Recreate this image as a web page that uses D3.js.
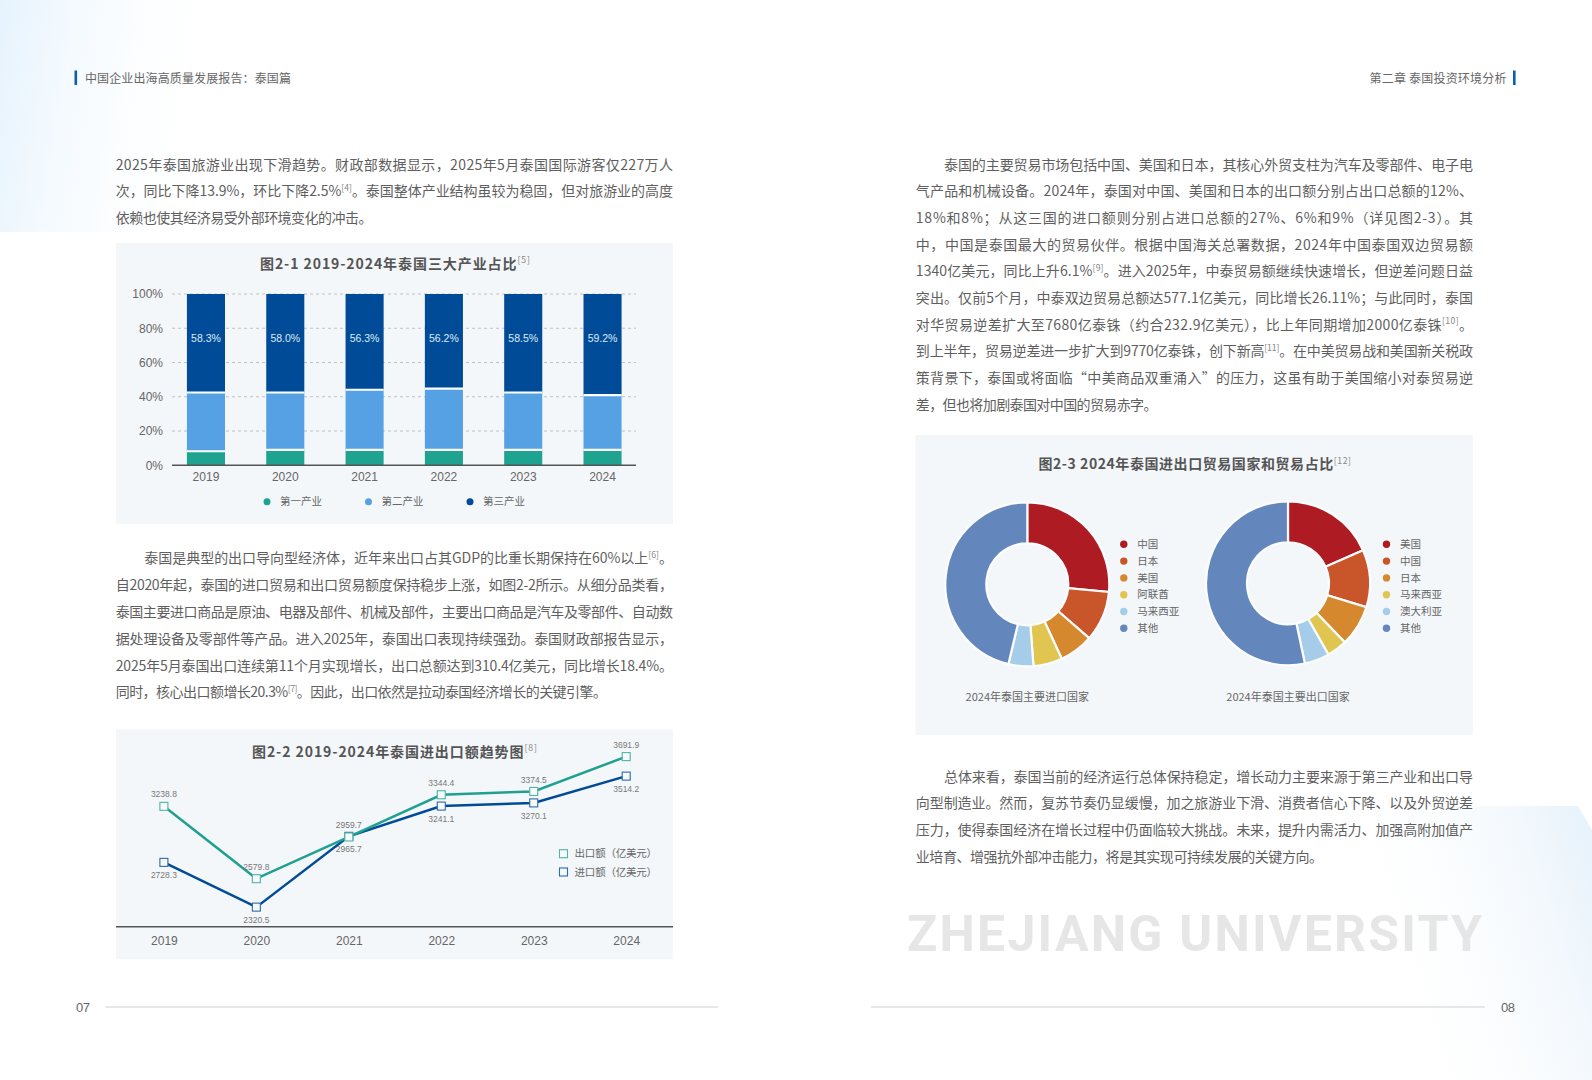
<!DOCTYPE html>
<html><head><meta charset="utf-8">
<script src="https://cdn.jsdelivr.net/npm/d3@7/dist/d3.min.js"></script>
<style>html,body{margin:0;padding:0;background:#fff;overflow:hidden}svg{display:block}</style>
</head><body><svg id="page" width="1592" height="1080"></svg>
<script>
// ---------- data ----------
const years=["2019","2020","2021","2022","2023","2024"];
const primaryShare=[8.2,9,9,9,9,9];
const secondaryShare=[34.3,33.5,35.1,35.8,33.5,32.0];
const tertiaryShare=[57.5,57.5,55.9,55.2,57.5,59.0];
const tertiaryLabels=["58.3%","58.0%","56.3%","56.2%","58.5%","59.2%"];
const industryNames=["第一产业","第二产业","第三产业"];
const exportValues=[3238.8,2579.8,2959.7,3344.4,3374.5,3691.9];
const importValues=[2728.3,2320.5,2965.7,3241.1,3270.1,3514.2];
const tradeNames=["出口额（亿美元）","进口额（亿美元）"];
const importCountries=["中国","日本","美国","阿联酋","马来西亚","其他"];
const importShares=[26.5,9.9,6.7,5.7,4.9,46.3];
const exportCountries=["美国","中国","日本","马来西亚","澳大利亚","其他"];
const exportShares=[18.4,11.3,8.1,4.0,4.9,53.3];
const para1=["2025年泰国旅游业出现下滑趋势。财政部数据显示，2025年5月泰国国际游客仅227万人","次，同比下降13.9%，环比下降2.5%^[4]^。泰国整体产业结构虽较为稳固，但对旅游业的高度","依赖也使其经济易受外部环境变化的冲击。"];
const para2=["泰国是典型的出口导向型经济体，近年来出口占其GDP的比重长期保持在60%以上^[6]^。","自2020年起，泰国的进口贸易和出口贸易额度保持稳步上涨，如图2-2所示。从细分品类看，","泰国主要进口商品是原油、电器及部件、机械及部件，主要出口商品是汽车及零部件、自动数","据处理设备及零部件等产品。进入2025年，泰国出口表现持续强劲。泰国财政部报告显示，","2025年5月泰国出口连续第11个月实现增长，出口总额达到310.4亿美元，同比增长18.4%。","同时，核心出口额增长20.3%^[7]^。因此，出口依然是拉动泰国经济增长的关键引擎。"];
const para3=["泰国的主要贸易市场包括中国、美国和日本，其核心外贸支柱为汽车及零部件、电子电","气产品和机械设备。2024年，泰国对中国、美国和日本的出口额分别占出口总额的12%、","18%和8%；从这三国的进口额则分别占进口总额的27%、6%和9%（详见图2-3）。其","中，中国是泰国最大的贸易伙伴。根据中国海关总署数据，2024年中国泰国双边贸易额","1340亿美元，同比上升6.1%^[9]^。进入2025年，中泰贸易额继续快速增长，但逆差问题日益","突出。仅前5个月，中泰双边贸易总额达577.1亿美元，同比增长26.11%；与此同时，泰国","对华贸易逆差扩大至7680亿泰铢（约合232.9亿美元），比上年同期增加2000亿泰铢^[10]^。","到上半年，贸易逆差进一步扩大到9770亿泰铢，创下新高^[11]^。在中美贸易战和美国新关税政","策背景下，泰国或将面临“中美商品双重涌入”的压力，这虽有助于美国缩小对泰贸易逆","差，但也将加剧泰国对中国的贸易赤字。"];
const para4=["总体来看，泰国当前的经济运行总体保持稳定，增长动力主要来源于第三产业和出口导","向型制造业。然而，复苏节奏仍显缓慢，加之旅游业下滑、消费者信心下降、以及外贸逆差","压力，使得泰国经济在增长过程中仍面临较大挑战。未来，提升内需活力、加强高附加值产","业培育、增强抗外部冲击能力，将是其实现可持续发展的关键方向。"];

// ---------- helpers ----------
const CJK='"Noto Sans CJK SC","Noto Sans",sans-serif', LAT='"Liberation Sans",Arial,sans-serif';
const TXT='#666', PANEL='#f4f7fa';
const svg=d3.select('#page');
const defs=svg.append('defs');
function grad(id,x1,y1,x2,y2,stops){const g=defs.append('linearGradient').attr('id',id).attr('x1',x1).attr('y1',y1).attr('x2',x2).attr('y2',y2);
  stops.forEach(s=>g.append('stop').attr('offset',s[0]).attr('stop-color',s[1]).attr('stop-opacity',s[2]));}
grad('gTL',0,0,1,0.15,[[0,'#e6f3fd',1],[1,'#ffffff',0]]);
grad('gBR',1,0.2,0,0.6,[[0,'#e9f3fb',1],[1,'#ffffff',0]]);
svg.append('path').attr('d','M0,0H190L230,60L150,232H0Z').attr('fill','url(#gTL)');
svg.append('path').attr('d','M1370,806H1578L1592,830V1080H1370Z').attr('fill','url(#gBR)');

// text with optional ^sup^ runs; fitted by letter-spacing between x0 and x1
function richText(g,str,x,y,size,fill,weight,x1,family){
  const t=g.append('text').attr('x',x).attr('y',y).attr('dy','0.36em').attr('font-family',family||CJK)
    .attr('font-size',size).attr('fill',fill).attr('font-weight',weight||400);
  str.split('^').forEach((part,i)=>{ if(!part) return;
    if(i%2){ t.append('tspan').attr('font-size',size*0.62).attr('dy',-size*0.4).attr('fill','#888').attr('font-weight',400).text(part);
      t.append('tspan').attr('font-size',size).attr('dy',size*0.4).text('\u200b'); }
    else t.append('tspan').text(part); });
  if(x1!==undefined){ const n=str.replace(/\^/g,'').length; const len=t.node().getComputedTextLength();
    t.attr('letter-spacing',(x1-x-len)/Math.max(1,n-1)); }
  return t;
}
function block(lines,x0,x1,y0,dy,indent,lastEnd){
  const g=svg.append('g');
  lines.forEach((l,i)=>{ const last=i===lines.length-1;
    richText(g,l,x0+(i===0?indent:0),y0+i*dy,14,'#5f5f5f',400,last?lastEnd:x1); });
}
block(para1,115.7,673,164.5,26.85,0,372.6);
block(para2,115.7,673,558.4,26.8,28.5,607);
block(para3,915.8,1473,164.5,26.7,28.2,1157.5);
block(para4,915.8,1473,776.7,26.7,28.2,1323);

// header, footer, watermark
svg.append('rect').attr('x',74.5).attr('y',70.5).attr('width',2.6).attr('height',14.5).attr('fill','#0b5fae');
richText(svg,'中国企业出海高质量发展报告：泰国篇',85,78.5,12,TXT,400,291);
svg.append('rect').attr('x',1513).attr('y',70.5).attr('width',2.6).attr('height',14.5).attr('fill','#0b5fae');
richText(svg,'第二章 泰国投资环境分析',1369.5,78.5,12,TXT,400,1506.5);
const lineFoot=[[105.6,718],[871,1485]];
svg.selectAll('line.foot').data(lineFoot).join('line').attr('class','foot').attr('x1',d=>d[0]).attr('x2',d=>d[1]).attr('y1',1007).attr('y2',1007).attr('stroke','#cdd2d6').attr('stroke-width',1);
richText(svg,'07',76,1007,13,TXT,400,90,LAT);
richText(svg,'08',1501,1007,13,TXT,400,1515,LAT);
richText(svg,'ZHEJIANG UNIVERSITY',907,933,50,'#e6e6e6',700,1482,'Roboto,"Liberation Sans",sans-serif');

// ---------- figure 2-1 ----------
(function(){
  const g=svg.append('g');
  g.append('rect').attr('x',116).attr('y',243).attr('width',557).attr('height',281).attr('fill',PANEL);
  richText(g,'图2-1 2019-2024年泰国三大产业占比^[5]^',260,264,14,'#555',700,530);
  const x=d3.scaleBand().domain(years).range([166.3,642.2]).paddingInner(.52).paddingOuter(.26);
  const y=d3.scaleLinear().domain([0,100]).range([465.3,294]);
  const ga=g.append('g').attr('transform','translate(172,0)').call(d3.axisLeft(y).tickValues([0,20,40,60,80,100]).tickFormat(d=>d+'%').tickSize(0).tickPadding(9));
  ga.select('.domain').remove();
  ga.selectAll('text').attr('font-family',LAT).attr('font-size',12).attr('fill',TXT);
  const gr=g.append('g').selectAll('line').data([20,40,60,80,100]).join('line').attr('x1',172).attr('x2',636)
    .attr('y1',d=>y(d)).attr('y2',d=>y(d)).attr('stroke','#bcc2c7').attr('stroke-width',1).attr('stroke-dasharray','3 3');
  const rows=years.map((yr,i)=>({yr,a:primaryShare[i],b:secondaryShare[i],c:tertiaryShare[i]}));
  const stack=d3.stack().keys(['a','b','c'])(rows);
  const cols=['#1fa391','#55a1e3','#004b97'];
  g.selectAll('g.s').data(stack).join('g').attr('class','s').attr('fill',(d,i)=>cols[i])
    .selectAll('rect').data(d=>d).join('rect').attr('x',d=>x(d.data.yr)).attr('width',x.bandwidth())
    .attr('y',d=>y(d[1])).attr('height',d=>y(d[0])-y(d[1]));
  g.selectAll('line.sep').data(rows.flatMap(r=>[[r.yr,r.a],[r.yr,r.a+r.b]])).join('line').attr('class','sep')
    .attr('x1',d=>x(d[0])).attr('x2',d=>x(d[0])+x.bandwidth()).attr('y1',d=>y(d[1])).attr('y2',d=>y(d[1])).attr('stroke','#fff').attr('stroke-width',2.2);
  g.selectAll('text.v').data(tertiaryLabels).join('text').attr('class','v').attr('x',(d,i)=>x(years[i])+x.bandwidth()/2).attr('y',338).attr('dy','.36em')
    .attr('text-anchor','middle').attr('font-family',LAT).attr('font-size',10.5).attr('fill','#dcebf7').text(d=>d);
  const gb=g.append('g').attr('transform','translate(0,465.3)').call(d3.axisBottom(d3.scaleBand().domain(years).range([166.3,642.2])).tickSize(0).tickPadding(7));
  gb.select('.domain').remove();
  gb.selectAll('text').attr('font-family',LAT).attr('font-size',12).attr('fill',TXT);
  g.append('line').attr('x1',172).attr('x2',636).attr('y1',465.3).attr('y2',465.3).attr('stroke','#555').attr('stroke-width',1.5);
  const lx=d3.scalePoint().domain(industryNames).range([267,470]);
  industryNames.forEach((n,i)=>{
    g.append('circle').attr('cx',lx(n)).attr('cy',501.7).attr('r',3.5).attr('fill',cols[i]);
    richText(g,n,lx(n)+13,501.7,10.5,TXT);
  });
})();

// ---------- figure 2-2 ----------
(function(){
  const g=svg.append('g');
  g.append('rect').attr('x',116).attr('y',729.3).attr('width',557).attr('height',230).attr('fill',PANEL);
  richText(g,'图2-2 2019-2024年泰国进出口额趋势图^[8]^',252,751.7,14,'#555',700,537);
  const x=d3.scalePoint().domain(years).range([163.9,626.2]);
  const y=d3.scaleLinear().domain([2000,4000]).range([942.3,722.8]);
  const gb=g.append('g').attr('transform','translate(0,926.7)').call(d3.axisBottom(x).tickSize(0).tickPadding(10));
  gb.select('.domain').remove();
  gb.selectAll('text').attr('font-family',LAT).attr('font-size',12).attr('fill',TXT);
  g.append('line').attr('x1',116).attr('x2',673).attr('y1',926.7).attr('y2',926.7).attr('stroke','#555').attr('stroke-width',1.6);
  const line=d3.line().x((d,i)=>x(years[i])).y(d=>y(d));
  const series=[[importValues,'#004b97','#2e68a8',13],[exportValues,'#20a090','#4fb3a6',-12]];
  series.forEach(([vals,c,mc,off])=>{
    g.append('path').attr('d',line(vals)).attr('fill','none').attr('stroke',c).attr('stroke-width',2.5);
  });
  series.forEach(([vals,c,mc,off])=>{
    g.selectAll(null).data(vals).join('rect').attr('x',(d,i)=>x(years[i])-4).attr('y',d=>y(d)-4).attr('width',8).attr('height',8)
      .attr('fill','#f7fafb').attr('stroke',mc).attr('stroke-width',1.1);
    g.selectAll(null).data(vals).join('text').attr('x',(d,i)=>x(years[i])).attr('y',d=>y(d)+off).attr('dy','.36em').attr('text-anchor','middle')
      .attr('font-family',LAT).attr('font-size',8.5).attr('fill','#777').text(d=>d.toFixed(1));
  });
  const ly=d3.scalePoint().domain(tradeNames).range([853.7,872]);
  [[tradeNames[0],'#4fb3a6'],[tradeNames[1],'#2e68a8']].forEach(([n,c])=>{
    g.append('rect').attr('x',559.5).attr('y',ly(n)-4).attr('width',8).attr('height',8).attr('fill','#f7fafb').attr('stroke',c).attr('stroke-width',1.1);
    richText(g,n,574.6,ly(n),10.5,TXT,400,657);
  });
})();

// ---------- figure 2-3 ----------
(function(){
  const g=svg.append('g');
  g.append('rect').attr('x',915.5).attr('y',435).attr('width',557.5).attr('height',300).attr('fill',PANEL);
  richText(g,'图2-3 2024年泰国进出口贸易国家和贸易占比^[12]^',1038.4,464.3,14,'#555',700,1351);
  const colors=d3.scaleOrdinal().domain(d3.range(6)).range(['#ae1b22','#c9552b','#d5882e','#e0c550','#a5cde9','#6387bd']);
  const pie=d3.pie().sort(null);
  const arc=d3.arc().innerRadius(41).outerRadius(82);
  const ly=d3.scalePoint().domain(d3.range(6)).range([544.3,628.3]);
  [[importShares,importCountries,1027.3,584.3,1123.8,'2024年泰国主要进口国家'],[exportShares,exportCountries,1288,583.3,1386.5,'2024年泰国主要出口国家']].forEach(([vals,names,cx,cy,lx,cap])=>{
    g.append('g').attr('transform',`translate(${cx},${cy})`).selectAll('path').data(pie(vals)).join('path')
      .attr('d',arc).attr('fill',(d,i)=>colors(i)).attr('stroke','#fbfcfd').attr('stroke-width',2.2);
    names.forEach((n,i)=>{
      g.append('circle').attr('cx',lx).attr('cy',ly(i)).attr('r',3.7).attr('fill',colors(i));
      richText(g,n,lx+13.4,ly(i),10.5,TXT);
    });
    const c=richText(g,cap,cx,696.7,11,TXT); c.attr('text-anchor','middle');
  });
})();
</script></body></html>
